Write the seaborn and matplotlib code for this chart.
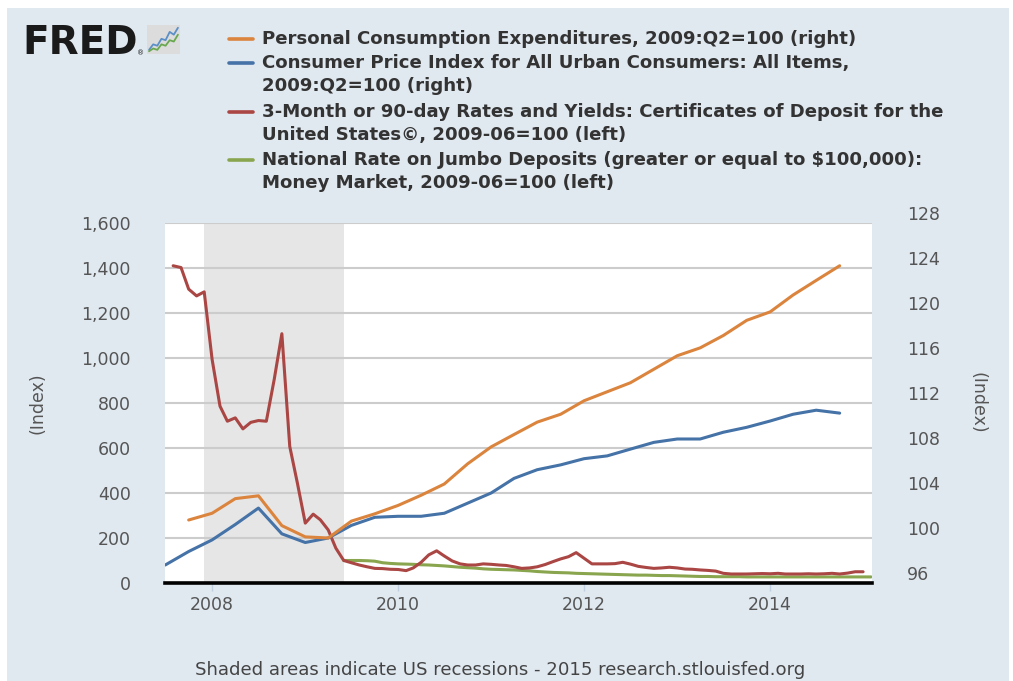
import matplotlib
matplotlib.use("Agg")
import matplotlib.pyplot as plt
import matplotlib.ticker as mticker
import matplotlib.transforms as mtrans
from matplotlib.lines import Line2D
from matplotlib.patches import Rectangle
import seaborn as sns
import pandas as pd

# ---------------- data ----------------
# 3-Month CD rates index (monthly, Aug 2007 - Jan 2015), left axis
cd_start = "2007-08-01"
cd_values = [
    1410, 1402, 1306, 1276, 1294,
    994, 786, 719, 734, 685, 714, 722, 719, 905, 1108, 607, 444,
    266, 306, 281, 236, 155, 100, 90, 80, 72, 65, 64, 61,
    60, 55, 67, 92, 125, 143, 120, 98, 85, 80, 80, 85,
    83, 80, 78, 72, 65, 67, 72, 82, 95, 107, 117, 135,
    110, 85, 85, 85, 86, 92, 84, 74, 69, 65, 67, 70,
    67, 62, 61, 58, 56, 53, 43, 40, 40, 40, 41, 42,
    41, 43, 40, 40, 40, 41, 40, 41, 43, 40, 44, 50,
    50,
]
# Jumbo deposits money market index (monthly, Jun 2009 - Feb 2015), left axis
jumbo_start = "2009-06-01"
jumbo_values = [
    100, 100, 100, 99, 97, 90, 87,
    85, 84, 83, 81, 80, 78, 76, 73, 70, 68, 66, 63,
    61, 60, 59, 58, 56, 54, 51, 49, 47, 46, 45, 43,
    42, 41, 40, 39, 38, 37, 36, 35, 35, 34, 33, 33,
    32, 31, 30, 29, 29, 28, 28, 28, 28, 27, 27, 27,
    27, 27, 27, 27, 27, 27, 27, 27, 27, 27, 27, 27,
    27, 27,
]
# PCE index (quarterly, 2007Q4 - 2014Q4), right axis
pce_start = "2007-10-01"
pce_values = [
    101.6,
    102.2, 103.5, 103.75, 101.1,
    100.1, 100.0, 101.5, 102.15,
    102.9, 103.8, 104.8, 106.6,
    108.1, 109.2, 110.3, 111.0,
    112.2, 113.0, 113.8, 115.0,
    116.2, 116.9, 118.0, 119.35,
    120.1, 121.6, 122.9, 124.2,
]
# CPI index (quarterly, 2007Q3 - 2014Q4), right axis
cpi_start = "2007-07-01"
cpi_values = [
    97.6, 98.8,
    99.83, 101.2, 102.66, 100.37,
    99.6, 100.0, 101.12, 101.84,
    101.93, 101.93, 102.2, 103.1,
    104.0, 105.3, 106.07, 106.5,
    107.05, 107.3, 107.9, 108.5,
    108.8, 108.8, 109.4, 109.84,
    110.4, 111.0, 111.36, 111.1,
]

legend_labels = [
    ["Personal Consumption Expenditures, 2009:Q2=100 (right)"],
    ["Consumer Price Index for All Urban Consumers: All Items,",
     "2009:Q2=100 (right)"],
    ["3-Month or 90-day Rates and Yields: Certificates of Deposit for the",
     "United States\u00a9, 2009-06=100 (left)"],
    ["National Rate on Jumbo Deposits (greater or equal to $100,000):",
     "Money Market, 2009-06=100 (left)"],
]
left_ticks = [0, 200, 400, 600, 800, 1000, 1200, 1400, 1600]
right_ticks = [96, 100, 104, 108, 112, 116, 120, 124, 128]
year_ticks = [2008, 2010, 2012, 2014]
recession = ("2007-12-01", "2009-06-01")
footer = "Shaded areas indicate US recessions - 2015 research.stlouisfed.org"

# logo decoration
logo_blue = [0.15, 0.35, 0.3, 0.55, 0.5, 0.8, 0.7, 0.95]
logo_green = [0.1, 0.2, 0.15, 0.35, 0.3, 0.5, 0.45, 0.7]

# ---------------- style ----------------
ORANGE = "#DB843D"
BLUE = "#4572A7"
RED = "#AA4643"
GREEN = "#89A54E"
BG = "#e0e8f0"
TXT = "#555555"

sns.set_theme(style="white")
plt.rcParams["font.family"] = ["DejaVu Sans"]

W, H = 1013, 681
fig = plt.figure(figsize=(W / 100, H / 100), dpi=100)
fig.patch.set_facecolor("white")
fig.add_artist(Rectangle((7 / W, 0), (W - 11) / W, (H - 8) / H,
                         transform=fig.transFigure, facecolor=BG,
                         edgecolor="none", zorder=-10))

def fx(px):
    return px / W

def fy(py):
    return 1 - py / H

cd = pd.DataFrame({"date": pd.date_range(cd_start, periods=len(cd_values), freq="MS"),
                   "value": cd_values})
jumbo = pd.DataFrame({"date": pd.date_range(jumbo_start, periods=len(jumbo_values), freq="MS"),
                      "value": jumbo_values})
pce = pd.DataFrame({"date": pd.date_range(pce_start, periods=len(pce_values), freq="QS"),
                    "value": pce_values})
cpi = pd.DataFrame({"date": pd.date_range(cpi_start, periods=len(cpi_values), freq="QS"),
                    "value": cpi_values})

ax = fig.add_axes([fx(165), fy(583), 707 / W, 360 / H])
ax.set_facecolor("white")
ax2 = ax.twinx()

ax.axvspan(pd.Timestamp(recession[0]), pd.Timestamp(recession[1]),
           color="#e6e6e6", lw=0, zorder=0)
ax.set_axisbelow(True)
ax.yaxis.grid(True, color="#cccccc", lw=1.5)
ax.xaxis.grid(False)
ax2.grid(False)

LW = 2.2
sns.lineplot(data=jumbo, x="date", y="value", ax=ax, color=GREEN, lw=LW, zorder=3)
sns.lineplot(data=cd, x="date", y="value", ax=ax, color=RED, lw=LW, zorder=4)
sns.lineplot(data=cpi, x="date", y="value", ax=ax2, color=BLUE, lw=LW, zorder=3)
sns.lineplot(data=pce, x="date", y="value", ax=ax2, color=ORANGE, lw=LW, zorder=4)

ax.set_xlim(pd.Timestamp("2007-06-30"), pd.Timestamp("2015-02-05"))
ax.set_ylim(left_ticks[0], left_ticks[-1])
ax2.set_ylim(right_ticks[0], right_ticks[-1])
ax.set_yticks(left_ticks)
ax.yaxis.set_major_formatter(mticker.FuncFormatter(lambda v, p: f"{v:,.0f}"))
ax2.set_yticks(right_ticks)
ax.set_xticks([pd.Timestamp(f"{y}-01-01") for y in year_ticks])
ax.set_xticklabels([str(y) for y in year_ticks])

for a in (ax, ax2):
    for s in a.spines.values():
        s.set_visible(False)
ax.spines["bottom"].set_visible(True)
ax.spines["bottom"].set_color("black")
ax.spines["bottom"].set_linewidth(2.6)
ax.spines["bottom"].set_zorder(5)

ax.tick_params(axis="x", bottom=True, length=6, width=1, color="#c0d0e0",
               direction="out", pad=3.5, labelsize=12.5, labelcolor=TXT)
ax.tick_params(axis="y", left=False, length=0, pad=24.5, labelsize=12.5,
               labelcolor=TXT)
ax2.tick_params(axis="y", right=False, length=0, pad=25, labelsize=12.5,
                labelcolor=TXT)
shift = mtrans.ScaledTranslation(0, 10 / 100, fig.dpi_scale_trans)
for lbl in ax2.get_yticklabels():
    lbl.set_transform(lbl.get_transform() + shift)

ax.set_xlabel("")
ax.set_ylabel("(Index)", fontsize=12.5, color=TXT, rotation=90, va="center", ha="center")
ax.yaxis.set_label_coords((38 - 165) / 707, 0.5)
ax2.set_ylabel("(Index)", fontsize=12.5, color=TXT, rotation=270, va="center", ha="center")
ax2.yaxis.set_label_coords((977 - 165) / 707, 0.5)

# legend (manual, FRED style)
line_rows = [[39], [63, 86], [112, 135], [160, 183]]
colors = [ORANGE, BLUE, RED, GREEN]
for labels, rows, c in zip(legend_labels, line_rows, colors):
    fig.add_artist(Line2D([fx(229), fx(253)], [fy(rows[0])] * 2,
                          transform=fig.transFigure, color=c, lw=2.6))
    for text, r in zip(labels, rows):
        fig.text(fx(262), fy(r), text, fontsize=13.05, fontweight="bold",
                 color="#333333", va="center", ha="left")

# FRED logo
fig.text(fx(22), fy(54), "FRED", fontsize=28, fontweight="heavy",
         color="#1a1a1a", va="baseline", ha="left")
fig.text(fx(137), fy(55), "\u00ae", fontsize=5, color="#1a1a1a",
         va="baseline", ha="left")
lax = fig.add_axes([fx(147), fy(54), 33 / W, 29 / H])
lax.set_facecolor("#dcdcdc")
lax.plot(range(len(logo_blue)), logo_blue, color="#5b8fc7", lw=1.3)
lax.plot(range(len(logo_green)), logo_green, color="#6aa84f", lw=1.3)
lax.set_xlim(-0.5, len(logo_blue) - 0.5)
lax.set_ylim(0, 1.05)
lax.set_xticks([])
lax.set_yticks([])
for s in lax.spines.values():
    s.set_visible(False)

fig.text(fx(500), fy(670), footer, fontsize=13.1, color="#444444",
         ha="center", va="center")

fig.savefig("out.png", dpi=100)
